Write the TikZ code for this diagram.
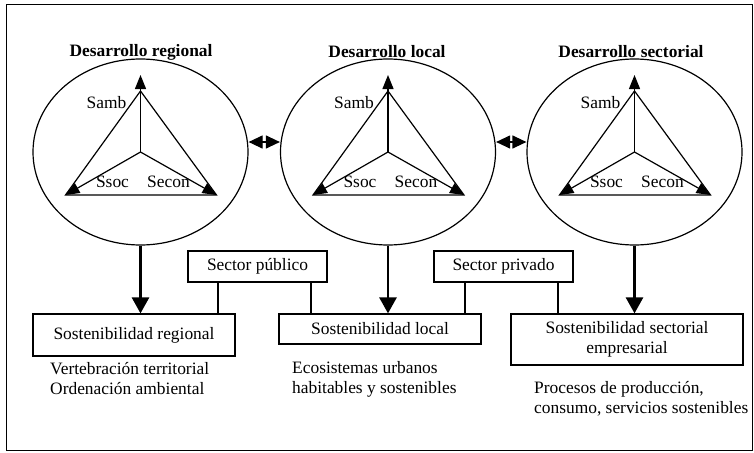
\documentclass[tikz,border=0pt]{standalone}
\usepackage{fontspec}
\setmainfont{Liberation Serif}
\usetikzlibrary{arrows.meta,shapes.geometric}
\begin{document}
\begin{tikzpicture}[x=1pt,y=-1pt,
  font=\fontsize{17.4}{20}\selectfont,
  sphere/.style={ellipse,draw,line width=1.2pt,minimum width=215pt,minimum height=186pt,inner sep=0pt},
  title/.style={font=\fontsize{17.4}{20}\selectfont\bfseries},
  tri/.style={line width=1.2pt,line join=miter},
  vec/.style={line width=1.2pt,-{Triangle[length=14pt,width=11pt]}},
  down/.style={line width=2.7pt,-{Triangle[length=16pt,width=17pt]}},
  dbl/.style={line width=1.2pt,{Triangle[length=14pt,width=13pt]}-{Triangle[length=14pt,width=13pt]}},
  box/.style={draw,line width=1.2pt,inner sep=0pt,align=center},
  tie/.style={line width=1.2pt},
  note/.style={anchor=west,align=left,inner sep=0pt}]
\useasboundingbox (0,0) rectangle (754,452);
\draw[line width=1.4pt] (6.5,4.5) rectangle (752.5,450.5);

% three development spheres
\node[sphere] (c1) at (140.5,152) {};
\node[sphere] (c2) at (388,152) {};
\node[sphere] (c3) at (634.5,152) {};
\node[title] (h1) at (141,52) {Desarrollo regional};
\node[title] (h2) at (387,52) {Desarrollo local};
\node[title] (h3) at (631,52) {Desarrollo sectorial};

% sustainability triangles
\foreach \i/\cx in {1/140.5,2/388,3/634.5}{
  \coordinate (ctr\i) at (\cx,152);
  \coordinate (top\i) at (\cx,91);
  \coordinate (tip\i) at (\cx,75);
  \coordinate (left\i) at (\cx-75,195);
  \coordinate (right\i) at (\cx+76,195);
  \draw[tri] (left\i) -- (top\i) -- (right\i) -- cycle;
  \draw[vec] (ctr\i) -- (tip\i);
  \draw[vec] (ctr\i) -- (left\i);
  \draw[vec] (ctr\i) -- (right\i);
  \node (samb\i) at (\cx-34,103) {Samb};
  \node (ssoc\i) at (\cx-28,182) {Ssoc};
  \node (secon\i) at (\cx+28,182) {Secon};
}

% links between spheres
\draw[dbl] ([yshift=10pt]c1.east) -- ([yshift=10pt]c2.west);
\draw[dbl] ([yshift=10pt]c2.east) -- ([yshift=10pt]c3.west);

% sustainability boxes
\node[box,minimum width=202pt,minimum height=42pt] (b1) at (134,335) {Sostenibilidad regional};
\node[box,minimum width=202pt,minimum height=30pt] (b2) at (380,329) {Sostenibilidad local};
\node[box,minimum width=232pt,minimum height=51pt] (b3) at (627,339.5) {Sostenibilidad sectorial\\empresarial};

\node[box,minimum width=139pt,minimum height=31pt] (pub) at (257.5,266.5) {Sector público};
\node[box,minimum width=139pt,minimum height=31pt] (priv) at (503.5,266.5) {Sector privado};

% arrows from spheres down to boxes
\draw[down] (c1.south) -- (c1.south |- b1.north);
\draw[down] (c2.south) -- (c2.south |- b2.north);
\draw[down] (c3.south) -- (c3.south |- b3.north);

% sector ties
\draw[tie] (pub.south) ++(-39.5,0) coordinate (pa) -- (pa |- b1.north);
\draw[tie] (pub.south) ++(53.5,0) coordinate (pb) -- (pb |- b2.north);
\draw[tie] (priv.south) ++(-38.5,0) coordinate (qa) -- (qa |- b2.north);
\draw[tie] (priv.south) ++(54.5,0) coordinate (qb) -- (qb |- b3.north);

% descriptions
\node[note] (d1) at (50,379) {Vertebración territorial\\Ordenación ambiental};
\node[note] (d2) at (292,379) {Ecosistemas urbanos\\habitables y sostenibles};
\node[note] (d3) at (534,399) {Procesos de producción,\\consumo, servicios sostenibles};
\end{tikzpicture}
\end{document}
